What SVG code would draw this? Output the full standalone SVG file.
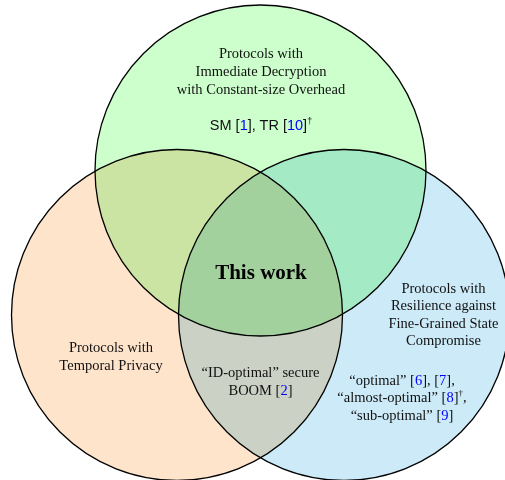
<svg xmlns="http://www.w3.org/2000/svg" width="505" height="480" viewBox="0 0 505 480">
<style>
.fill{mix-blend-mode:multiply;stroke:none}
.ring{fill:none;stroke:#000;stroke-width:1.3}
.t{font-family:"Liberation Serif","Times New Roman",serif;font-size:14.5px;fill:#111;text-anchor:middle}
.s{font-family:"Liberation Sans",Arial,sans-serif;font-size:14.5px;fill:#111;text-anchor:middle}
.b{font-family:"Liberation Serif","Times New Roman",serif;font-size:21px;font-weight:bold;fill:#000;text-anchor:middle}
.ref{fill:#0000ff}
.sup{font-size:9px}
</style>
<rect width="505" height="480" fill="#fff"/>
<g id="fills" style="isolation:isolate">
<circle class="fill" cx="260.5" cy="170.5" r="165.5" fill="#ccffcc"/>
<circle class="fill" cx="177" cy="315" r="165.5" fill="#ffe4cc"/>
<circle class="fill" cx="344" cy="315" r="165.5" fill="#cceaf7"/>
</g>
<g id="set-immediate">
<circle class="ring" cx="260.5" cy="170.5" r="165.5"/>
<text class="t" x="261" y="58">Protocols with</text>
<text class="t" x="261" y="76">Immediate Decryption</text>
<text class="t" x="261" y="94">with Constant-size Overhead</text>
<text class="s" x="261" y="130">SM [<tspan class="ref">1</tspan>], TR [<tspan class="ref">10</tspan>]<tspan class="sup" dy="-6">†</tspan></text>
</g>
<g id="set-temporal">
<circle class="ring" cx="177" cy="315" r="165.5"/>
<text class="t" x="111" y="352">Protocols with</text>
<text class="t" x="111" y="369.5">Temporal Privacy</text>
</g>
<g id="set-resilience">
<circle class="ring" cx="344" cy="315" r="165.5"/>
<text class="t" x="443.5" y="292.5">Protocols with</text>
<text class="t" x="443.5" y="310">Resilience against</text>
<text class="t" x="443.5" y="327.5">Fine-Grained State</text>
<text class="t" x="443.5" y="345">Compromise</text>
<text class="t" x="402" y="385">“optimal” [<tspan class="ref">6</tspan>], [<tspan class="ref">7</tspan>],</text>
<text class="t" x="402" y="402">“almost-optimal” [<tspan class="ref">8</tspan>]<tspan class="sup" dy="-6">†</tspan><tspan dy="6">,</tspan></text>
<text class="t" x="402" y="419.5">“sub-optimal” [<tspan class="ref">9</tspan>]</text>
</g>
<g id="this-work">
<text class="b" x="261" y="279">This work</text>
</g>
<g id="id-optimal">
<text class="t" x="260.5" y="377">“ID-optimal” secure</text>
<text class="t" x="260.5" y="394.5">BOOM [<tspan class="ref">2</tspan>]</text>
</g>
<g id="connectors"/>
</svg>
